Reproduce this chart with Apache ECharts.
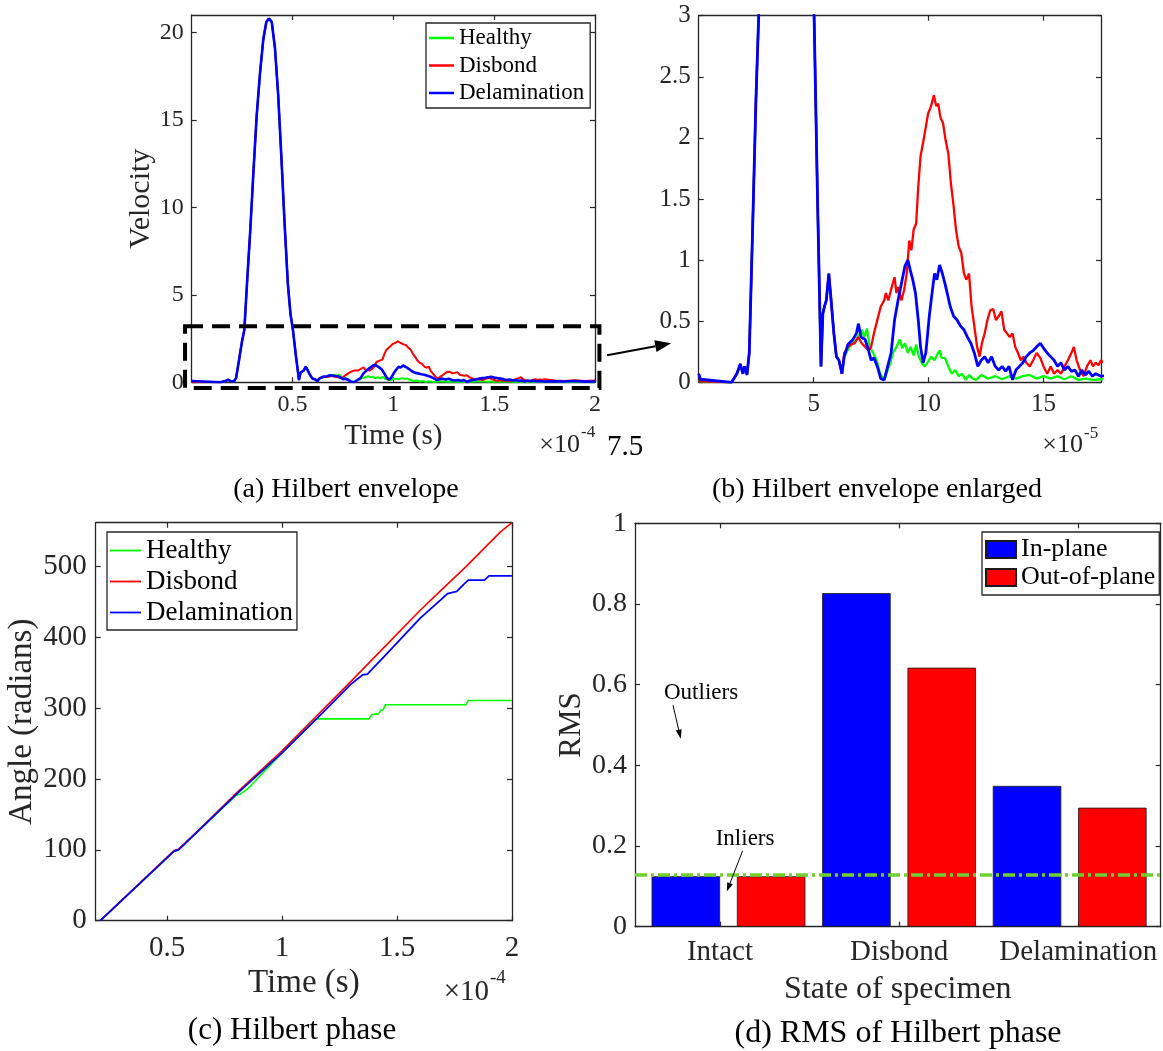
<!DOCTYPE html>
<html><head><meta charset="utf-8">
<script src="https://cdn.jsdelivr.net/npm/echarts@6/dist/echarts.min.js"></script>
<style>html,body{margin:0;padding:0;background:#fff}#c{width:1163px;height:1051px}</style>
</head><body><div id="c"></div>
<script>
// ================= DATA =================
// Hilbert envelope, time in units of 1e-5 s, velocity
const envHealthy = [[0,0.01],[1.43,0],[1.66,0.07],[1.81,0.15],[1.92,0.07],[2.0,0.13],[2.1,0.06],[2.2,0.24],[2.34,1.22],[2.49,2.31],[2.61,3.0],[2.75,5.8],[2.9,8.6],[3.06,12.0],[3.22,15.2],[3.39,17.7],[3.55,19.6],[3.7,20.6],[3.83,20.8],[3.97,20.6],[4.13,19.1],[4.29,16.4],[4.45,12.8],[4.61,9.0],[4.77,5.6],[4.9,3.9],[5.02,3.0],[5.17,1.49],[5.32,0.13],[5.4,0.56],[5.47,0.62],[5.55,0.67],[5.66,0.89],[5.76,0.67],[5.88,0.4],[5.99,0.21],[6.1,0.18],[6.23,0.07],
  [6.33,0.21],[6.56,0.29],[6.86,0.35],[7.09,0.43],[7.21,0.37],[7.32,0.44],[7.44,0.29],[7.59,0.24],[7.74,0.18],[7.89,0.07],[8.07,0.02],[8.22,0.1],[8.34,0.16],[8.45,0.24],[8.6,0.29],[8.75,0.35],[8.85,0.28],[8.97,0.32],[9.1,0.24],[9.22,0.29],[9.35,0.22],[9.46,0.31],[9.58,0.21],[9.7,0.16],[9.82,0.13],[9.95,0.16],[10.11,0.21],[10.26,0.18],[10.41,0.24],[10.5,0.26],[10.56,0.2],[10.71,0.2],[10.86,0.13],[11.01,0.07],[11.16,0.1],[11.31,0.05],[11.46,0.07],[11.61,0.02],[11.76,0.06],[11.92,0.03],[12.07,0.02],[12.29,0.06],[12.59,0.03],[12.9,0.05],[13.2,0.025],[13.5,0.05],[13.8,0.03],[14.1,0.05],[14.4,0.06],[14.7,0.03],[15.0,0.05],[15.31,0.03],[15.61,0.05],[15.91,0.025],[16.21,0.05],[16.52,0.02],[16.82,0.03],[17.12,0.02],[17.5,0.025],[18,0.03],[19,0.02],[20,0.02]];
const envDisbond = [[0,0.01],[1.43,0],[1.66,0.07],[1.81,0.15],[1.92,0.07],[2.0,0.13],[2.1,0.06],[2.2,0.24],[2.34,1.22],[2.49,2.31],[2.61,3.0],[2.75,5.8],[2.9,8.6],[3.06,12.0],[3.22,15.2],[3.39,17.7],[3.55,19.6],[3.7,20.6],[3.83,20.8],[3.97,20.6],[4.13,19.1],[4.29,16.4],[4.45,12.8],[4.61,9.0],[4.77,5.6],[4.9,3.9],[5.02,3.0],[5.17,1.49],[5.32,0.13],[5.4,0.56],[5.47,0.62],[5.55,0.67],[5.66,0.89],[5.76,0.67],[5.88,0.4],[5.99,0.21],[6.1,0.18],[6.23,0.07],
  [6.33,0.24],[6.49,0.29],[6.64,0.31],[6.79,0.32],[6.94,0.37],[7.09,0.32],[7.24,0.29],[7.39,0.26],[7.5,0.29],[7.62,0.4],[7.77,0.51],[7.92,0.62],[8.07,0.67],[8.14,0.73],[8.25,0.67],[8.37,0.76],[8.52,0.86],[8.6,0.73],[8.67,0.78],[8.82,0.67],[8.94,0.76],[9.05,0.89],[9.16,1.16],[9.25,1.08],[9.35,1.25],[9.46,1.3],[9.55,1.6],[9.65,1.85],[9.76,1.96],[9.88,2.09],[9.98,2.2],[10.11,2.26],[10.23,2.35],[10.33,2.26],[10.42,2.28],[10.51,2.17],[10.63,2.12],[10.74,1.98],[10.86,1.87],[10.97,1.63],[11.09,1.44],[11.19,1.25],[11.31,1.11],[11.42,1.06],[11.54,0.89],[11.64,0.84],[11.76,0.89],[11.87,0.62],[11.99,0.46],[12.11,0.29],[12.22,0.21],[12.32,0.32],[12.44,0.4],[12.56,0.51],[12.68,0.59],[12.81,0.6],[12.93,0.51],[13.05,0.54],[13.17,0.58],[13.29,0.43],[13.41,0.4],[13.53,0.37],[13.65,0.4],[13.77,0.29],[13.89,0.24],[14.01,0.18],[14.13,0.21],[14.25,0.16],[14.4,0.13],[14.55,0.18],[14.7,0.24],[14.86,0.2],[15.0,0.13],[15.16,0.07],[15.31,0.13],[15.46,0.07],[15.61,0.1],[15.76,0.07],[15.91,0.13],[16.06,0.18],[16.21,0.24],[16.32,0.29],[16.44,0.18],[16.59,0.1],[16.74,0.05],[16.89,0.13],[17.04,0.18],[17.15,0.13],[17.27,0.16],[17.39,0.14],[17.5,0.18],[18,0.1],[18.5,0.08],[19,0.12],[19.5,0.07],[20,0.1]];
const envDelamination = [[0,0.07],[0.08,0.025],[1.43,0],[1.66,0.07],[1.81,0.15],[1.92,0.07],[2.0,0.13],[2.1,0.06],[2.2,0.24],[2.34,1.22],[2.49,2.31],[2.61,3.0],[2.75,5.8],[2.9,8.6],[3.06,12.0],[3.22,15.2],[3.39,17.7],[3.55,19.6],[3.7,20.6],[3.83,20.8],[3.97,20.6],[4.13,19.1],[4.29,16.4],[4.45,12.8],[4.61,9.0],[4.77,5.6],[4.9,3.9],[5.02,3.0],[5.17,1.49],[5.32,0.13],[5.4,0.56],[5.47,0.62],[5.55,0.67],[5.66,0.89],[5.76,0.67],[5.88,0.4],[5.99,0.21],[6.1,0.18],[6.23,0.07],
  [6.33,0.21],[6.49,0.31],[6.71,0.35],[6.86,0.4],[6.95,0.48],[7.06,0.37],[7.24,0.35],[7.39,0.26],[7.5,0.18],[7.62,0.2],[7.77,0.13],[7.92,0.03],[8.07,0.02],[8.22,0.13],[8.37,0.24],[8.52,0.51],[8.67,0.67],[8.82,0.81],[8.97,0.95],[9.1,1.0],[9.2,0.92],[9.31,0.84],[9.43,0.73],[9.55,0.51],[9.65,0.29],[9.76,0.16],[9.88,0.24],[10.03,0.54],[10.15,0.73],[10.26,0.89],[10.36,0.84],[10.48,0.96],[10.6,0.89],[10.71,0.81],[10.81,0.73],[10.94,0.62],[11.09,0.54],[11.24,0.51],[11.39,0.46],[11.54,0.43],[11.69,0.37],[11.84,0.32],[11.99,0.24],[12.14,0.13],[12.29,0.18],[12.44,0.21],[12.59,0.16],[12.74,0.21],[12.9,0.13],[13.05,0.1],[13.2,0.13],[13.35,0.09],[13.5,0.13],[13.65,0.02],[13.8,0.1],[13.95,0.13],[14.1,0.16],[14.25,0.21],[14.4,0.24],[14.55,0.26],[14.7,0.29],[14.86,0.32],[15.0,0.28],[15.16,0.24],[15.31,0.21],[15.46,0.18],[15.61,0.13],[15.76,0.16],[15.91,0.1],[16.06,0.13],[16.21,0.09],[16.37,0.1],[16.52,0.05],[16.67,0.1],[16.82,0.06],[16.97,0.09],[17.12,0.05],[17.27,0.07],[17.5,0.05],[18,0.06],[18.5,0.05],[19,0.07],[19.5,0.04],[20,0.05]];

// Hilbert phase, time in units of 1e-4 s, angle in radians
const phaseHealthy = [[0.21,0],[0.53,98],[0.55,100],[0.65,131],[0.8,177],[0.82,179],[0.85,186],[1.0,237],[1.147,285],[1.2,285],[1.3,285],[1.378,285],[1.39,291],[1.42,292],[1.43,297],[1.44,298],[1.45,305],[1.6,305],[1.8,305],[1.81,311],[2.0,311]];
const phaseDisbond = [[0.21,0],[0.53,99],[0.55,101],[0.65,132],[0.8,180],[1.0,240],[1.15,289],[1.3,338],[1.45,388],[1.6,438],[1.69,466],[1.8,500],[1.95,549],[2.0,562]];
const phaseDelamination = [[0.21,0],[0.53,98],[0.55,100],[0.65,131],[0.8,178],[1.0,237],[1.15,285],[1.3,334],[1.35,347],[1.37,348],[1.45,375],[1.6,427],[1.69,453],[1.72,462],[1.76,465],[1.79,475],[1.81,481],[1.88,481],[1.9,487],[2.0,487]];

// RMS of Hilbert phase
const states = ['Intact', 'Disbond', 'Delamination'];
const rmsInPlane = [0.125, 0.827, 0.349];
const rmsOutOfPlane = [0.125, 0.642, 0.295];
const rmsThreshold = 0.128;
const stateTickPos = [1.4, 3.5, 5.6];

// tick values
const ticksAx = [0.5, 1, 1.5, 2], ticksAy = [0, 5, 10, 15, 20];
const ticksBx = [5, 10, 15], ticksBy = [0, 0.5, 1, 1.5, 2, 2.5, 3];
const ticksCx = [0.5, 1, 1.5, 2], ticksCy = [0, 100, 200, 300, 400, 500];
const ticksDy = [0, 0.2, 0.4, 0.6, 0.8, 1];

// ================= CHART =================
const FONT = '"Liberation Serif","Times New Roman",Times,serif';
const AX = '#262626';
const GREEN = '#00ff00', RED = '#ff0000', BLUE = '#0000ff';

const chart = echarts.init(document.getElementById('c'), null, {renderer: 'canvas'});

function axis(gi, pos, min, max, ticks, lab, nm) {
  const a = {
    type: 'value', gridIndex: gi, position: pos, min: min, max: max,
    axisLine: {show: true, onZero: false, lineStyle: {color: AX, width: 1.3}},
    axisTick: {show: true, inside: true, length: 5, customValues: ticks, lineStyle: {color: AX, width: 1.2}},
    splitLine: {show: false},
    axisLabel: {show: false}
  };
  if (lab) {
    a.axisLabel = Object.assign({show: true, customValues: ticks, color: AX, fontFamily: FONT}, lab);
  }
  if (nm) {
    a.name = nm.text; a.nameLocation = 'middle'; a.nameGap = nm.gap;
    a.nameTextStyle = {fontSize: nm.size, color: AX, fontFamily: FONT};
  }
  return a;
}

const xAxes = [
  axis(0, 'bottom', 0, 2, ticksAx, {fontSize: 24, margin: 10}, {text: 'Time (s)', gap: 40, size: 29}),
  axis(0, 'top', 0, 2, ticksAx),
  axis(1, 'bottom', 0, 17.5, ticksBx, {fontSize: 25, margin: 10}),
  axis(1, 'top', 0, 17.5, ticksBx),
  axis(2, 'bottom', 0.19, 2, ticksCx, {fontSize: 29, margin: 13}, {text: 'Time (s)', gap: 46, size: 33}),
  axis(2, 'top', 0.19, 2, ticksCx),
  axis(3, 'bottom', 0.404, 6.567, stateTickPos, {fontSize: 29, margin: 11, formatter: function (v) {
    let best = 0; stateTickPos.forEach(function (p, i) { if (Math.abs(p - v) < Math.abs(stateTickPos[best] - v)) best = i; });
    return states[best];
  }}, {text: 'State of specimen', gap: 47, size: 32}),
  axis(3, 'top', 0.404, 6.567, stateTickPos)
];
const yAxes = [
  axis(0, 'left', 0, 21, ticksAy, {fontSize: 24, margin: 8}, {text: 'Velocity', gap: 36, size: 30}),
  axis(0, 'right', 0, 21, ticksAy),
  axis(1, 'left', 0, 3, ticksBy, {fontSize: 25, margin: 8}),
  axis(1, 'right', 0, 3, ticksBy),
  axis(2, 'left', 0, 562, ticksCy, {fontSize: 29, margin: 9}, {text: 'Angle (radians)', gap: 55, size: 33}),
  axis(2, 'right', 0, 562, ticksCy),
  axis(3, 'left', 0, 1, ticksDy, {fontSize: 28, margin: 8}, {text: 'RMS', gap: 48, size: 31}),
  axis(3, 'right', 0, 1, ticksDy)
];

function line(name, color, data, xi, yi, w) {
  return {
    type: 'line', name: name, xAxisIndex: xi, yAxisIndex: yi, data: data,
    color: color, symbol: 'none', showSymbol: false, clip: true,
    lineStyle: {color: color, width: w}, itemStyle: {color: color},
    animation: false, silent: true
  };
}
const toA = function (arr) { return arr.map(function (p) { return [p[0] / 10, p[1]]; }); };

const series = [
  line('Healthy', GREEN, toA(envHealthy), 0, 0, 2.0),
  line('Disbond', RED, toA(envDisbond), 0, 0, 2.0),
  line('Delamination', BLUE, toA(envDelamination), 0, 0, 2.6),
  line('Healthy', GREEN, envHealthy, 2, 2, 2.3),
  line('Disbond', RED, envDisbond, 2, 2, 2.3),
  line('Delamination', BLUE, envDelamination, 2, 2, 2.8),
  line('Healthy', GREEN, phaseHealthy, 4, 4, 1.6),
  line('Disbond', RED, phaseDisbond, 4, 4, 1.6),
  line('Delamination', BLUE, phaseDelamination, 4, 4, 1.8),
  {
    type: 'bar', name: 'In-plane', xAxisIndex: 6, yAxisIndex: 6,
    data: rmsInPlane.map(function (v, i) { return [2 * i + 1, v]; }),
    barWidth: 68.5, barGap: '-100%', color: BLUE,
    itemStyle: {color: BLUE, borderColor: '#1a1a1a', borderWidth: 0.8},
    animation: false, silent: true,
    markLine: {
      silent: true, symbol: 'none', label: {show: false}, animation: false,
      lineStyle: {color: '#6fd02f', width: 3.5, type: [12, 4, 3, 4]},
      data: [{yAxis: rmsThreshold}]
    }
  },
  {
    type: 'bar', name: 'Out-of-plane', xAxisIndex: 6, yAxisIndex: 6,
    data: rmsOutOfPlane.map(function (v, i) { return [2 * i + 2, v]; }),
    barWidth: 68.5, barGap: '-100%', color: RED,
    itemStyle: {color: RED, borderColor: '#1a1a1a', borderWidth: 0.8},
    animation: false, silent: true
  }
];

const legendBase = {
  orient: 'vertical', selectedMode: false, backgroundColor: '#fff',
  borderColor: AX, borderWidth: 1.3, borderRadius: 0
};

const option = {
  animation: false,
  backgroundColor: '#fff',
  textStyle: {fontFamily: FONT},
  grid: [
    {left: 191.7, top: 15, width: 403.3, height: 367.3, containLabel: false, outerBoundsMode: 'none'},
    {left: 698.7, top: 15.7, width: 402.3, height: 366.6, containLabel: false, outerBoundsMode: 'none'},
    {left: 95.7, top: 522.7, width: 416.3, height: 398, containLabel: false, outerBoundsMode: 'none'},
    {left: 635, top: 523.3, width: 525.7, height: 403.4, containLabel: false, outerBoundsMode: 'none'}
  ],
  xAxis: xAxes,
  yAxis: yAxes,
  legend: [
    Object.assign({}, legendBase, {
      left: 426, top: 23, padding: [2, 6, 2, 3], itemGap: 1.5, itemWidth: 25, itemHeight: 2.5, icon: 'rect',
      textStyle: {fontSize: 23, lineHeight: 26, color: '#000', fontFamily: FONT},
      data: ['Healthy', 'Disbond', 'Delamination']
    }),
    Object.assign({}, legendBase, {
      left: 107, top: 532, padding: [4, 4, 3, 3], itemGap: 2, itemWidth: 31, itemHeight: 1.8, icon: 'rect',
      textStyle: {fontSize: 27, lineHeight: 29, color: '#000', fontFamily: FONT},
      data: ['Healthy', 'Disbond', 'Delamination']
    }),
    Object.assign({}, legendBase, {
      left: 982, top: 532, padding: [4, 4, 4, 3], itemGap: 1, itemWidth: 30, itemHeight: 17, icon: 'rect',
      textStyle: {fontSize: 26, lineHeight: 27, color: '#000', fontFamily: FONT},
      data: ['In-plane', 'Out-of-plane']
    })
  ],
  series: series
};
chart.setOption(option);

// ================= ANNOTATIONS =================
function P(si, x, y) { return chart.convertToPixel({seriesIndex: si}, [x, y]); }
function txt(x, y, s, size, align, fill) {
  return {type: 'text', x: x, y: y, z: 100, silent: true,
    style: {text: s, font: size + 'px ' + FONT, fill: fill || '#000', align: align || 'left', verticalAlign: 'middle'}};
}
function arrow(p1, p2, lw, hl, hw) {
  const dx = p2[0] - p1[0], dy = p2[1] - p1[1];
  const len = Math.sqrt(dx * dx + dy * dy), ux = dx / len, uy = dy / len;
  const bx = p2[0] - ux * hl, by = p2[1] - uy * hl;
  const nx = -uy, ny = ux;
  return [
    {type: 'line', z: 100, silent: true, shape: {x1: p1[0], y1: p1[1], x2: bx, y2: by}, style: {stroke: '#000', lineWidth: lw}},
    {type: 'polygon', z: 100, silent: true, shape: {points: [[p2[0], p2[1]], [bx + nx * hw / 2, by + ny * hw / 2], [bx - nx * hw / 2, by - ny * hw / 2]]}, style: {fill: '#000'}}
  ];
}
// "×10^n" exponent label: right edge of "×10", y of base line centre
function expo(right10, y, size, exp, supSize, supDy) {
  return [
    txt(right10, y, '×10', size, 'right', AX),
    txt(right10 + 1, y - supDy, exp, supSize, 'left', AX)
  ];
}

const g = [];
// captions
g.push(txt(346, 490, '(a) Hilbert envelope', 28, 'center'));
g.push(txt(877, 490, '(b) Hilbert envelope enlarged', 28, 'center'));
g.push(txt(292, 1031, '(c) Hilbert phase', 31, 'center'));
g.push(txt(898, 1034, '(d) RMS of Hilbert phase', 32, 'center'));
// exponent labels
Array.prototype.push.apply(g, expo(580, 445, 26, '-4', 17, 12));
Array.prototype.push.apply(g, expo(1083, 445, 26, '-5', 17, 11));
Array.prototype.push.apply(g, expo(489, 992, 29, '-4', 19, 14));
// stray label
g.push(txt(607, 447, '7.5', 29, 'left'));

// dashed zoom rectangle in (a)
const r1 = P(0, -0.033, 3.21), r2 = P(0, 2.022, -0.33);
g.push({type: 'rect', z: 100, silent: true, shape: {x: r1[0], y: r1[1], width: r2[0] - r1[0], height: r2[1] - r1[1]},
  style: {fill: 'none', stroke: '#000', lineWidth: 4, lineDash: [18, 9]}});
// arrow (a) -> (b)
Array.prototype.push.apply(g, arrow(P(0, 2.06, 1.55), P(3, -1.2, 0.32), 2, 16, 12));

// (d) annotations
const o = P(9, 0.744, 0.579);
g.push(txt(o[0], o[1], 'Outliers', 23, 'left'));
Array.prototype.push.apply(g, arrow(P(9, 0.85, 0.549), P(9, 0.94, 0.466), 1, 9, 6));
const il = P(9, 1.35, 0.218);
g.push(txt(il[0], il[1], 'Inliers', 23, 'left'));
Array.prototype.push.apply(g, arrow(P(9, 1.665, 0.188), P(9, 1.48, 0.087), 1, 9, 6));

chart.setOption({graphic: {elements: g}});
</script>
</body></html>
